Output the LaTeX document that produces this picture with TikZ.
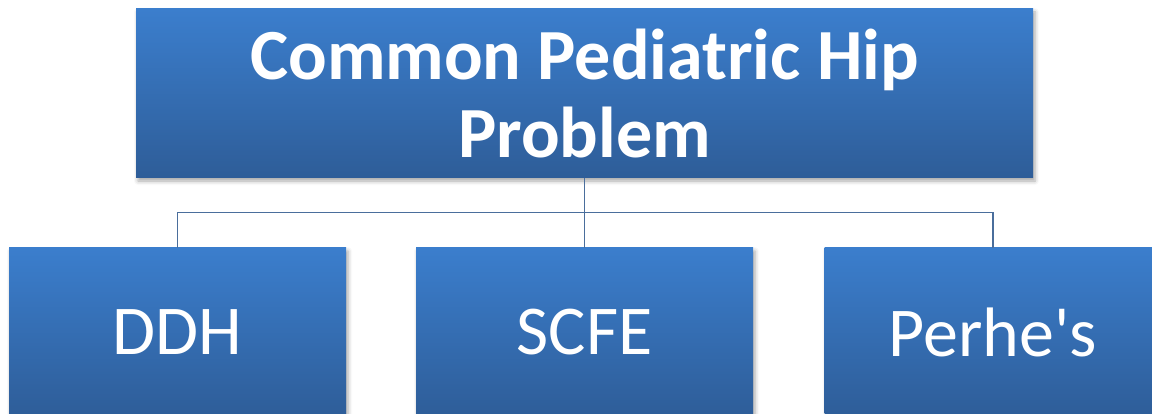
\documentclass[tikz,border=0pt]{standalone}
\usepackage{fontspec}
\setmainfont{Carlito}
\usetikzlibrary{shadows.blur}

\definecolor{boxtop}{HTML}{3B7ECD}
\definecolor{boxbot}{HTML}{2E5D98}
\definecolor{linkcol}{HTML}{4A6E9C}

\tikzset{
  box/.style={rectangle, minimum width=337pt, minimum height=169pt, inner sep=0pt,
    top color=boxtop, bottom color=boxbot, text=white, align=center,
    blur shadow={shadow xshift=2pt, shadow yshift=-3pt, shadow blur radius=4pt, shadow opacity=35}},
  link/.style={draw=linkcol, line width=1.5pt}
}

\begin{document}
\begin{tikzpicture}[x=1pt,y=-1pt]
		\useasboundingbox (0,0) rectangle (1152,414);

		\node[box, minimum width=897pt, font=\fontsize{72}{78}\selectfont\bfseries] (top) at (584.5,93.5) {Common Pediatric Hip\\Problem};

		\node[box, font=\fontsize{70}{80}\selectfont] (ddh) at (177.5,332.5) {DDH};
		\node[box, font=\fontsize{70}{80}\selectfont] (scfe) at (584.5,332.5) {SCFE};
		\node[box, font=\fontsize{70}{80}\selectfont] (perhes) at (993,332.5) {Perhe\textquotesingle s};

		\coordinate (bus) at (584.5,212.5);

		\draw[link] (top.south) -- (scfe.north);
		\draw[link] (ddh.north) -- (ddh.north |- bus) -- (perhes.north |- bus) -- (perhes.north);
\end{tikzpicture}
\end{document}
